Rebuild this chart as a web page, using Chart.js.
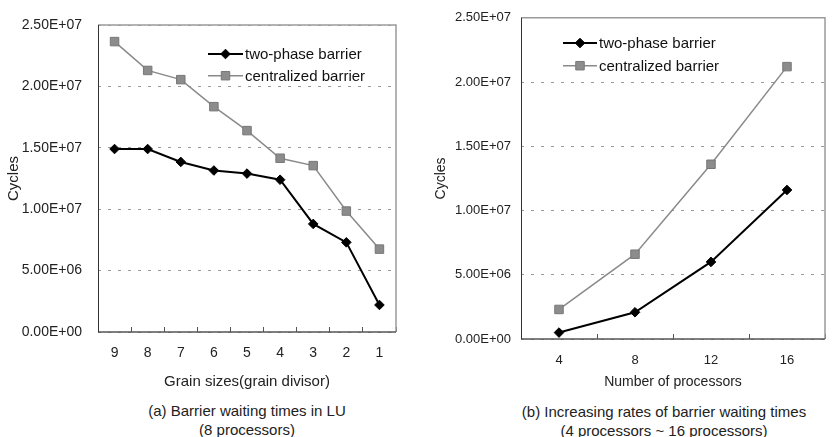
<!DOCTYPE html>
<html>
<head>
<meta charset="utf-8">
<script src="https://cdn.jsdelivr.net/npm/chart.js"></script>
<style>
  body { margin: 0; background: #fff; width: 832px; height: 437px; overflow: hidden; position: relative; font-family: 'Liberation Sans', Arial, sans-serif; }
  .box { position: absolute; top: 0; }
  .cap { position: absolute; transform: translateX(-50%); text-align: center; white-space: nowrap; font-size: 15px; line-height: 19px; color: #222; }
</style>
</head>
<body>
<div class="box" style="left:0;"><canvas id="chartA" width="415" height="395"></canvas></div>
<div class="box" style="left:420px;"><canvas id="chartB" width="412" height="395"></canvas></div>
<div class="cap" style="left:247px; top:401px;">(a) Barrier waiting times in LU<br>(8 processors)</div>
<div class="cap" style="left:664px; top:402px;">(b) Increasing rates of barrier waiting times<br>(4 processors ~ 16 processors)</div>
<script>
// valores
const grainLabels = ['9', '8', '7', '6', '5', '4', '3', '2', '1'];
const twoPhaseLU = [1.49e7, 1.49e7, 1.385e7, 1.315e7, 1.29e7, 1.24e7, 8.8e6, 7.3e6, 2.2e6];
const centralLU = [2.365e7, 2.13e7, 2.055e7, 1.835e7, 1.64e7, 1.415e7, 1.355e7, 9.85e6, 6.75e6];

const procLabels = ['4', '8', '12', '16'];
const twoPhaseProc = [5e5, 2.08e6, 6.0e6, 1.16e7];
const centralProc = [2.3e6, 6.6e6, 1.36e7, 2.12e7];

const yMax = 2.5e7;
const yStep = 5e6;

// 2.50E+07 style
function sci(v) {
    const [m, e] = Number(v).toExponential(2).split('e');
    const n = Math.abs(parseInt(e, 10));
    return m.toUpperCase() + 'E' + (parseInt(e, 10) < 0 ? '-' : '+') + String(n).padStart(2, '0');
}

const FONT = "'Liberation Sans', Arial, sans-serif";

// borda da área do gráfico
const frame = {
    id: 'frame',
    afterDraw(chart) {
        const { ctx, chartArea: a } = chart;
        ctx.save();
        ctx.lineWidth = 1.5;
        ctx.strokeStyle = '#9a9a9a';
        ctx.beginPath();
        ctx.moveTo(a.left, a.top); ctx.lineTo(a.right, a.top); ctx.lineTo(a.right, a.bottom);
        ctx.stroke();
        ctx.strokeStyle = '#555';
        ctx.beginPath();
        ctx.moveTo(a.left, a.bottom); ctx.lineTo(a.right, a.bottom);
        ctx.stroke();
        ctx.lineWidth = 1;
        ctx.strokeStyle = '#333';
        ctx.beginPath();
        ctx.moveTo(a.left + 0.5, a.top); ctx.lineTo(a.left + 0.5, a.bottom);
        ctx.stroke();
        ctx.restore();
    }
};

// legenda com linha + marcador
const lineLegend = {
    id: 'lineLegend',
    afterDraw(chart, args, opts) {
        const ctx = chart.ctx;
        ctx.save();
        ctx.font = opts.size + 'px ' + FONT;
        ctx.textBaseline = 'middle';
        chart.data.datasets.forEach((ds, i) => {
            const y = opts.y + i * opts.gap;
            const cx = opts.x + opts.len / 2;
            ctx.strokeStyle = ds.borderColor;
            ctx.lineWidth = ds.borderWidth;
            ctx.beginPath();
            ctx.moveTo(opts.x, y); ctx.lineTo(opts.x + opts.len, y);
            ctx.stroke();
            ctx.fillStyle = ds.pointBackgroundColor;
            ctx.strokeStyle = ds.pointBorderColor;
            ctx.lineWidth = 1;
            ctx.beginPath();
            const r = ds.pointRadius;
            if (ds.pointStyle === 'rectRot') {
                ctx.moveTo(cx - r, y); ctx.lineTo(cx, y - r); ctx.lineTo(cx + r, y); ctx.lineTo(cx, y + r);
                ctx.closePath();
            } else {
                const s = Math.SQRT1_2 * r;
                ctx.rect(cx - s, y - s, 2 * s, 2 * s);
            }
            ctx.fill(); ctx.stroke();
            ctx.fillStyle = '#111';
            ctx.fillText(ds.label, opts.x + opts.len + 2, y + 1);
        });
        ctx.restore();
    }
};

function makeDatasets(twoPhase, central) {
    return [{
        label: 'two-phase barrier',
        data: twoPhase,
        borderColor: '#000',
        borderWidth: 2,
        pointStyle: 'rectRot',
        pointRadius: 4.8,
        pointBackgroundColor: '#000',
        pointBorderColor: '#000',
        pointBorderWidth: 1,
        tension: 0
    }, {
        label: 'centralized barrier',
        data: central,
        borderColor: '#8a8a8a',
        borderWidth: 1.5,
        pointStyle: 'rect',
        pointRadius: 6,
        pointBackgroundColor: '#8c8c8c',
        pointBorderColor: '#777',
        pointBorderWidth: 1,
        tension: 0
    }];
}

function makeOptions(cfg) {
    return {
        responsive: false,
        animation: false,
        layout: { padding: { top: cfg.top, right: cfg.right, left: 0, bottom: 0 } },
        plugins: {
            legend: { display: false },
            tooltip: { enabled: false },
            lineLegend: cfg.legend
        },
        scales: {
            x: {
                offset: true,
                afterFit: (s) => { s.height = cfg.xHeight; },
                grid: {
                    offset: true,
                    drawOnChartArea: false,
                    drawTicks: true,
                    tickLength: -5,
                    color: '#555',
                    lineWidth: 1
                },
                border: { display: false },
                ticks: {
                    color: '#222',
                    padding: cfg.xPad,
                    font: { family: FONT, size: cfg.tickSize }
                },
                title: {
                    display: true,
                    text: cfg.xTitle,
                    color: '#222',
                    padding: { top: 0, bottom: cfg.xTitlePad },
                    font: { family: FONT, size: cfg.titleSize }
                }
            },
            y: {
                min: 0,
                max: yMax,
                afterFit: (s) => { s.width = cfg.yWidth; },
                grid: {
                    drawTicks: false,
                    color: '#9a9a9a',
                    lineWidth: 1
                },
                border: { display: false, dash: [3, 7] },
                ticks: {
                    stepSize: yStep,
                    color: '#222',
                    padding: cfg.yPad,
                    font: { family: FONT, size: cfg.tickSize },
                    callback: (v) => sci(v)
                },
                title: {
                    display: true,
                    text: 'Cycles',
                    color: '#222',
                    padding: { top: cfg.yTitlePad, bottom: 0 },
                    font: { family: FONT, size: cfg.titleSize }
                }
            }
        }
    };
}

new Chart(document.getElementById('chartA').getContext('2d'), {
    type: 'line',
    data: { labels: grainLabels, datasets: makeDatasets(twoPhaseLU, centralLU) },
    options: makeOptions({
        top: 25, right: 19, yWidth: 98, xHeight: 63,
        xPad: 18, yPad: 16, xTitlePad: 4, yTitlePad: 5,
        tickSize: 14, titleSize: 15,
        xTitle: 'Grain sizes(grain divisor)',
        legend: { x: 208, y: 54, gap: 21.7, len: 35, size: 15 }
    }),
    plugins: [frame, lineLegend]
});

new Chart(document.getElementById('chartB').getContext('2d'), {
    type: 'line',
    data: { labels: procLabels, datasets: makeDatasets(twoPhaseProc, centralProc) },
    options: makeOptions({
        top: 14, right: 1, yWidth: 101, xHeight: 56,
        xPad: 19, yPad: 10, xTitlePad: 4, yTitlePad: 13,
        tickSize: 13, titleSize: 14,
        xTitle: 'Number of processors',
        legend: { x: 143, y: 43, gap: 22.7, len: 34, size: 15 }
    }),
    plugins: [frame, lineLegend]
});
</script>
</body>
</html>
